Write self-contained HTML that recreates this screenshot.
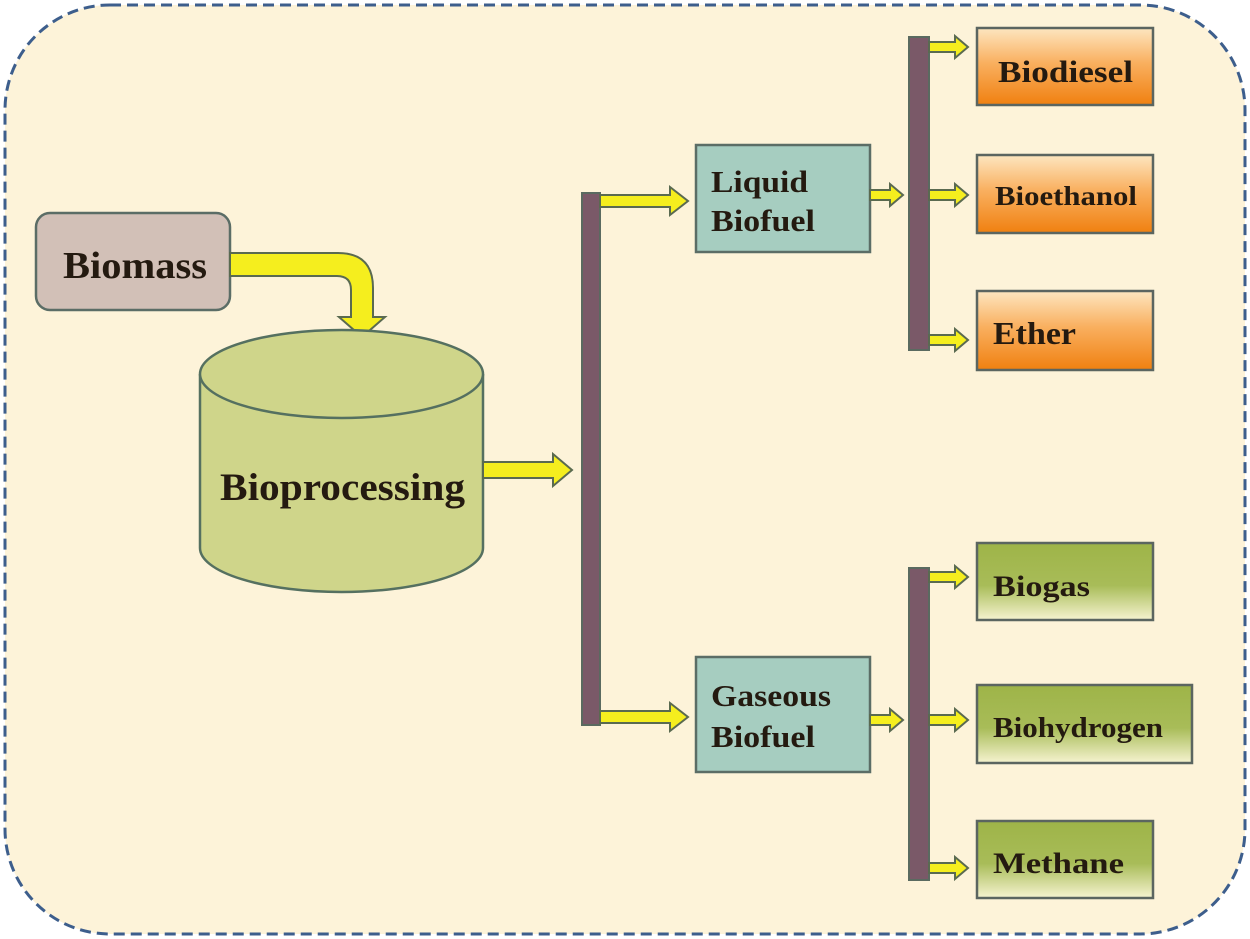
<!DOCTYPE html>
<html><head><meta charset="utf-8"><style>
html,body{margin:0;padding:0;background:#fff;}
svg{display:block;}
text{font-family:"Liberation Serif",serif;font-weight:bold;fill:#241a10;}
</style></head><body>
<svg width="1250" height="939" viewBox="0 0 1250 939" xmlns="http://www.w3.org/2000/svg">
<defs>
<linearGradient id="og" x1="0" y1="0" x2="0" y2="1">
<stop offset="0" stop-color="#fde6c0"/><stop offset="0.45" stop-color="#f9b060"/><stop offset="1" stop-color="#f08010"/>
</linearGradient>
<linearGradient id="gg" x1="0" y1="0" x2="0" y2="1">
<stop offset="0" stop-color="#9eb448"/><stop offset="0.55" stop-color="#a8bc58"/><stop offset="1" stop-color="#f6f3d0"/>
</linearGradient>
</defs>
<rect x="5" y="5" width="1240" height="929" rx="105" fill="#fdf3d9" stroke="#3d5e8c" stroke-width="3" stroke-dasharray="11,6"/>

<rect x="36" y="213" width="194" height="97" rx="14" fill="#d2c0b7" stroke="#5b6d66" stroke-width="2.5"/>
<text x="63" y="278" font-size="38" textLength="144" lengthAdjust="spacingAndGlyphs">Biomass</text>
<path d="M230 253 L338 253 Q373 253 373 288 L373 317 L385 317 L362 337 L339 317 L351 317 L351 290 Q351 276 337 276 L230 276 Z" fill="#f5ee1e" stroke="#5a6a50" stroke-width="2"/>

<path d="M200 374 L200 548 A141.5 44 0 0 0 483 548 L483 374" fill="#cfd58a" stroke="#557060" stroke-width="2.5"/>
<ellipse cx="341.5" cy="374" rx="141.5" ry="44" fill="#cfd58a" stroke="#557060" stroke-width="2.5"/>
<text x="220" y="500" font-size="39" textLength="245" lengthAdjust="spacingAndGlyphs">Bioprocessing</text>
<polygon points="483,462 553,462 553,454 572,470 553,486 553,478 483,478" fill="#f5ee1e" stroke="#5a6a50" stroke-width="2"/>

<rect x="582" y="193" width="18" height="532" fill="#7a5968" stroke="#5a6a60" stroke-width="2"/>
<polygon points="600,195 670,195 670,187 688,201 670,215 670,207 600,207" fill="#f5ee1e" stroke="#5a6a50" stroke-width="2"/>
<polygon points="600,711 670,711 670,703 688,717 670,731 670,723 600,723" fill="#f5ee1e" stroke="#5a6a50" stroke-width="2"/>

<rect x="696" y="145" width="174" height="107" fill="#a6cdc0" stroke="#5b6d66" stroke-width="2.5"/>
<text x="711" y="192" font-size="31" textLength="97" lengthAdjust="spacingAndGlyphs">Liquid</text>
<text x="711" y="231" font-size="31" textLength="104" lengthAdjust="spacingAndGlyphs">Biofuel</text>
<rect x="696" y="657" width="174" height="115" fill="#a6cdc0" stroke="#5b6d66" stroke-width="2.5"/>
<text x="711" y="706" font-size="31" textLength="120" lengthAdjust="spacingAndGlyphs">Gaseous</text>
<text x="711" y="747" font-size="31" textLength="104" lengthAdjust="spacingAndGlyphs">Biofuel</text>
<polygon points="870,190 890,190 890,184 903,195 890,206 890,200 870,200" fill="#f5ee1e" stroke="#5a6a50" stroke-width="2"/>
<polygon points="870,715 890,715 890,709 903,720 890,731 890,725 870,725" fill="#f5ee1e" stroke="#5a6a50" stroke-width="2"/>

<rect x="909" y="37" width="20" height="313" fill="#7a5968" stroke="#5a6a60" stroke-width="2"/>
<rect x="909" y="568" width="20" height="312" fill="#7a5968" stroke="#5a6a60" stroke-width="2"/>
<g fill="#f5ee1e" stroke="#5a6a50" stroke-width="2">
<polygon points="929,42 955,42 955,36 968,47 955,58 955,52 929,52"/>
<polygon points="929,190 955,190 955,184 968,195 955,206 955,200 929,200"/>
<polygon points="929,335 955,335 955,329 968,340 955,351 955,345 929,345"/>
<polygon points="929,572 955,572 955,566 968,577 955,588 955,582 929,582"/>
<polygon points="929,715 955,715 955,709 968,720 955,731 955,725 929,725"/>
<polygon points="929,863 955,863 955,857 968,868 955,879 955,873 929,873"/>
</g>

<g stroke="#5b6560" stroke-width="2.5" fill="url(#og)">
<rect x="977" y="28" width="176" height="77"/>
<rect x="977" y="155" width="176" height="78"/>
<rect x="977" y="291" width="176" height="79"/>
</g>
<text x="998" y="82" font-size="31" textLength="135" lengthAdjust="spacingAndGlyphs">Biodiesel</text>
<text x="995" y="205" font-size="27" textLength="142" lengthAdjust="spacingAndGlyphs">Bioethanol</text>
<text x="993" y="344" font-size="32" textLength="83" lengthAdjust="spacingAndGlyphs">Ether</text>

<g stroke="#5b6560" stroke-width="2.5" fill="url(#gg)">
<rect x="977" y="543" width="176" height="77"/>
<rect x="977" y="685" width="215" height="78"/>
<rect x="977" y="821" width="176" height="77"/>
</g>
<text x="993" y="596" font-size="30" textLength="97" lengthAdjust="spacingAndGlyphs">Biogas</text>
<text x="993" y="737" font-size="29" textLength="170" lengthAdjust="spacingAndGlyphs">Biohydrogen</text>
<text x="993" y="873" font-size="30" textLength="131" lengthAdjust="spacingAndGlyphs">Methane</text>
</svg>
</body></html>
